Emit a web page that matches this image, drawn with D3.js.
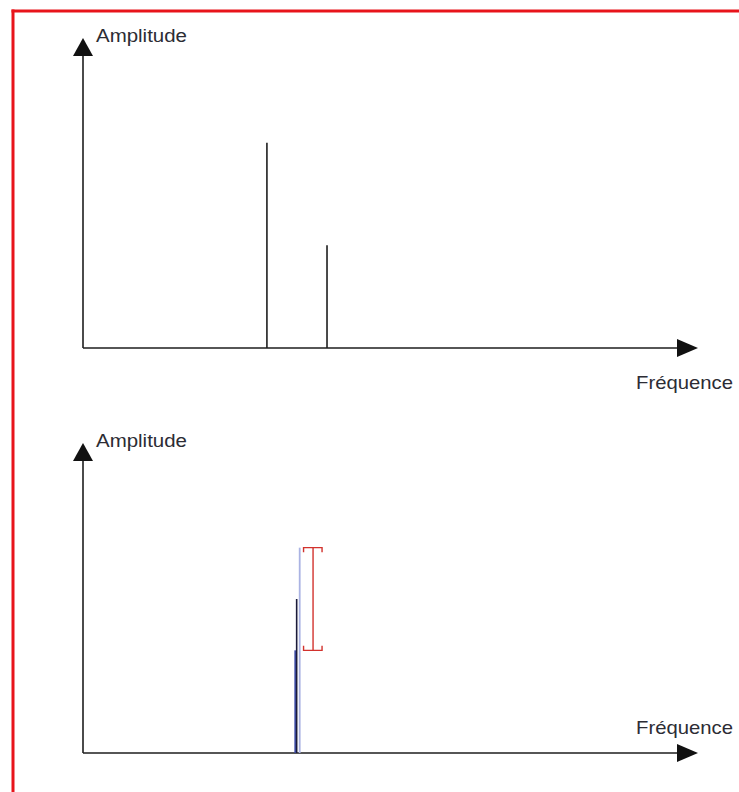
<!DOCTYPE html>
<html>
<head>
<meta charset="utf-8">
<script src="https://cdn.jsdelivr.net/npm/d3@7"></script>
<style>
  html, body { margin: 0; padding: 0; background: #fff; }
  svg { display: block; }
</style>
</head>
<body>
<div id="chart"></div>
<script>
// spectrum data (frequency units / amplitude units)
const topFreq = [3.03, 4.02];
const topAmp = [2, 1];

const bottomFreq = [3.5, 3.52, 3.57];
const bottomAmp = [1, 1.5, 2];
const bottomColors = ['#3d4ba6', '#1a1a3a', '#aab3e3'];
const bottomWidths = [2.2, 1.6, 1.8];

const bracketFreq = 3.79;

const labels = { y: 'Amplitude', x: 'Fréquence' };

const width = 739, height = 792;
const ink = '#1e1e1e';

const svg = d3.select('#chart').append('svg')
  .attr('width', width)
  .attr('height', height);

// red frame (left + top)
svg.append('line').attr('x1', 13).attr('x2', 13).attr('y1', 9.5).attr('y2', height)
  .attr('stroke', '#e8141b').attr('stroke-width', 3);
svg.append('line').attr('x1', 11.5).attr('x2', width).attr('y1', 11).attr('y2', 11)
  .attr('stroke', '#e8141b').attr('stroke-width', 3);

const x = d3.scaleLinear().domain([0, 10]).range([83, 690]);

function panel(originY, xLabelY) {
  const y = d3.scaleLinear().domain([0, 3]).range([originY, originY - 308]);
  const g = svg.append('g');
  const x0 = x(0);
  const tipY = originY - 310;
  const tipX = 698;

  // axes
  g.append('line').attr('x1', x0).attr('x2', x0).attr('y1', originY).attr('y2', tipY + 10)
    .attr('stroke', ink).attr('stroke-width', 1.6);
  g.append('line').attr('x1', x0).attr('x2', tipX - 10).attr('y1', originY).attr('y2', originY)
    .attr('stroke', ink).attr('stroke-width', 1.6);
  g.append('path')
    .attr('d', `M${x0},${tipY} L${x0 - 10},${tipY + 18} L${x0 + 10},${tipY + 18} Z`)
    .attr('fill', '#111');
  g.append('path')
    .attr('d', `M${tipX},${originY} L${tipX - 21},${originY - 9} L${tipX - 21},${originY + 9} Z`)
    .attr('fill', '#111');

  g.append('text')
    .attr('x', 96).attr('y', originY - 306)
    .attr('textLength', 91).attr('lengthAdjust', 'spacingAndGlyphs')
    .style('font-family', '"Liberation Sans", Arial, sans-serif')
    .style('font-size', '18px').style('fill', '#2c2c34')
    .text(labels.y);
  g.append('text')
    .attr('x', 636).attr('y', xLabelY)
    .attr('textLength', 97).attr('lengthAdjust', 'spacingAndGlyphs')
    .style('font-family', '"Liberation Sans", Arial, sans-serif')
    .style('font-size', '19px').style('fill', '#2c2c34')
    .text(labels.x);

  return { g, y };
}

// top panel
const p1 = panel(348, 389);
p1.g.selectAll('.spike')
  .data(topFreq.map((f, i) => ({ f, a: topAmp[i] })))
  .enter().append('line')
  .attr('class', 'spike')
  .attr('x1', d => x(d.f)).attr('x2', d => x(d.f))
  .attr('y1', p1.y(0)).attr('y2', d => p1.y(d.a))
  .attr('stroke', ink).attr('stroke-width', 1.6);

// bottom panel
const p2 = panel(753, 734);
const order = [2, 0, 1];
p2.g.selectAll('.spike')
  .data(order.map(i => ({ f: bottomFreq[i], a: bottomAmp[i], c: bottomColors[i], w: bottomWidths[i] })))
  .enter().append('line')
  .attr('class', 'spike')
  .attr('x1', d => x(d.f)).attr('x2', d => x(d.f))
  .attr('y1', p2.y(0)).attr('y2', d => p2.y(d.a))
  .attr('stroke', d => d.c).attr('stroke-width', d => d.w);

// red bracket between min and max amplitude
const bx = x(bracketFreq);
const yHi = p2.y(d3.max(bottomAmp));
const yLo = p2.y(d3.min(bottomAmp));
const red = '#d2322d';
const br = p2.g.append('g').attr('stroke', red).attr('stroke-width', 1.4).attr('fill', 'none');
br.append('line').attr('x1', bx).attr('x2', bx).attr('y1', yHi).attr('y2', yLo);
br.append('path').attr('d', `M${bx - 9.5},${yHi + 4.5} V${yHi} H${bx + 9} V${yHi + 4.5}`);
br.append('path').attr('d', `M${bx - 9.5},${yLo - 4.5} V${yLo} H${bx + 9} V${yLo - 4.5}`);
</script>
</body>
</html>
